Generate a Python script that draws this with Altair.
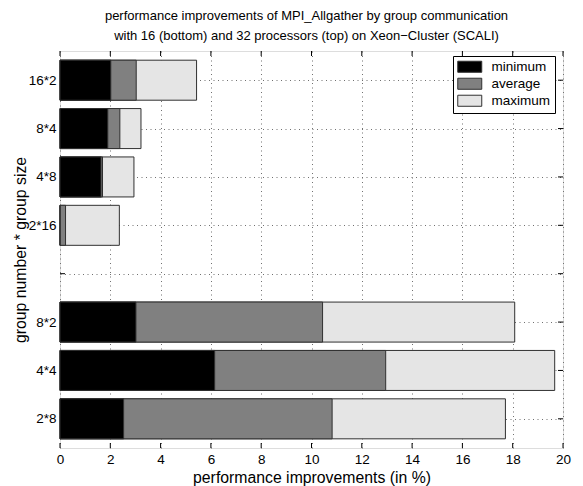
import altair as alt
import pandas as pd

# Row labels, bottom to top (slot 4 is an empty separator row)
labels = ["2*8", "4*4", "8*2", "", "2*16", "4*8", "8*4", "16*2"]
positions = [1, 2, 3, 4, 5, 6, 7, 8]

# Improvements in percent per configuration (None = empty separator row)
minimum = [2.53, 6.15, 3.02, None, 0.0, 1.63, 1.90, 2.02]
average = [10.82, 12.95, 10.44, None, 0.22, 1.69, 2.38, 3.03]
maximum = [17.71, 19.67, 18.08, None, 2.36, 2.94, 3.22, 5.43]

series_names = ["minimum", "average", "maximum"]
series_colors = ["#000000", "#808080", "#e5e5e5"]
x_ticks = list(range(0, 21, 2))

W, H = 503, 397
FONT = "Liberation Sans"

rows = []
# maximum drawn first so shorter bars sit on top of it
for rank, (name, vals) in enumerate([("maximum", maximum), ("average", average), ("minimum", minimum)]):
    for pos, v in zip(positions, vals):
        if v is not None:
            rows.append({"pos": pos, "value": v, "base": 0.0, "series": name, "rank": rank})
bars_df = pd.DataFrame(rows)

xt_df = pd.DataFrame({"t": x_ticks})
yt_df = pd.DataFrame({"p": positions})

label_js = "[" + ",".join("'%s'" % s for s in labels) + "][datum.value - 1]"

x_scale = alt.Scale(domain=[0, 20], nice=False, zero=False)
y_scale = alt.Scale(domain=[0.5, 8.5], nice=False, zero=False)

x_axis = alt.Axis(
    values=x_ticks, title="performance improvements (in %)", grid=True,
    gridColor="#707070", gridDash=[1, 3.5], gridWidth=1, domain=False, ticks=False,
    labelPadding=4, labelFontSize=13.5, labelColor="black", labelFont=FONT, labelFlush=False,
    titleFontSize=15.8, titleFont=FONT, titleFontWeight="normal", titleColor="black",
    titleX=W / 2, titleY=29, titleBaseline="middle",
)
y_axis = alt.Axis(
    values=positions, labelExpr=label_js, title="group number * group size", grid=True,
    gridColor="#707070", gridDash=[1, 3.5], gridWidth=1, domain=False, ticks=False,
    labelPadding=4, labelFontSize=13.5, labelColor="black", labelFont=FONT, labelFlush=False,
    titleFontSize=15.8, titleFont=FONT, titleFontWeight="normal", titleColor="black",
    titleX=-40, titleY=H / 2, titleAngle=270, titleBaseline="middle",
)

# inward tick marks on all four sides
tick_x_bottom = alt.Chart(xt_df).mark_rule(color="black", strokeWidth=1).encode(
    x=alt.X("t:Q", scale=x_scale, axis=x_axis), y=alt.value(H - 5), y2=alt.value(H))
tick_x_top = alt.Chart(xt_df).mark_rule(color="black", strokeWidth=1).encode(
    x=alt.X("t:Q", scale=x_scale), y=alt.value(0), y2=alt.value(5))
tick_y_left = alt.Chart(yt_df).mark_rule(color="black", strokeWidth=1).encode(
    y=alt.Y("p:Q", scale=y_scale, axis=y_axis), x=alt.value(0), x2=alt.value(5))
tick_y_right = alt.Chart(yt_df).mark_rule(color="black", strokeWidth=1).encode(
    y=alt.Y("p:Q", scale=y_scale), x=alt.value(W - 5), x2=alt.value(W))

# wide rectangular legend swatch
legend_symbol = "M-1,-0.92L3,-0.92L3,0.92L-1,0.92Z"

bars = alt.Chart(bars_df).mark_bar(
    orient="horizontal", size=40, stroke="#303030", strokeWidth=1, opacity=1
).encode(
    x=alt.X("value:Q", scale=x_scale, stack=None),
    x2=alt.X2("base:Q"),
    y=alt.Y("pos:Q", scale=y_scale),
    color=alt.Color(
        "series:N",
        scale=alt.Scale(domain=series_names, range=series_colors),
        legend=alt.Legend(
            orient="none", legendX=393, legendY=5, title=None,
            symbolType=legend_symbol, symbolSize=144, symbolStrokeColor="#303030",
            symbolStrokeWidth=1, symbolOpacity=1,
            labelFontSize=13.5, labelFont=FONT, labelColor="black", labelOffset=21,
            rowPadding=1, padding=4, strokeColor="black", fillColor="white",
        ),
    ),
    order=alt.Order("rank:Q"),
)

chart = alt.layer(tick_x_bottom, tick_x_top, tick_y_left, tick_y_right, bars).properties(
    width=W, height=H,
    title=alt.TitleParams(
        text=["performance improvements of MPI_Allgather by group communication",
              "with 16 (bottom) and 32 processors (top) on Xeon\u2212Cluster (SCALI)"],
        fontSize=13, font=FONT, fontWeight="normal", color="black",
        lineHeight=20, offset=8, anchor="middle", dx=-5,
    ),
    autosize=alt.AutoSizeParams(type="none"),
    padding={"left": 60, "top": 51, "right": 20, "bottom": 38},
).configure_view(stroke="black", strokeWidth=1).configure(background="white")

chart.save("out.html", embed_options={"renderer": "svg", "actions": False})
